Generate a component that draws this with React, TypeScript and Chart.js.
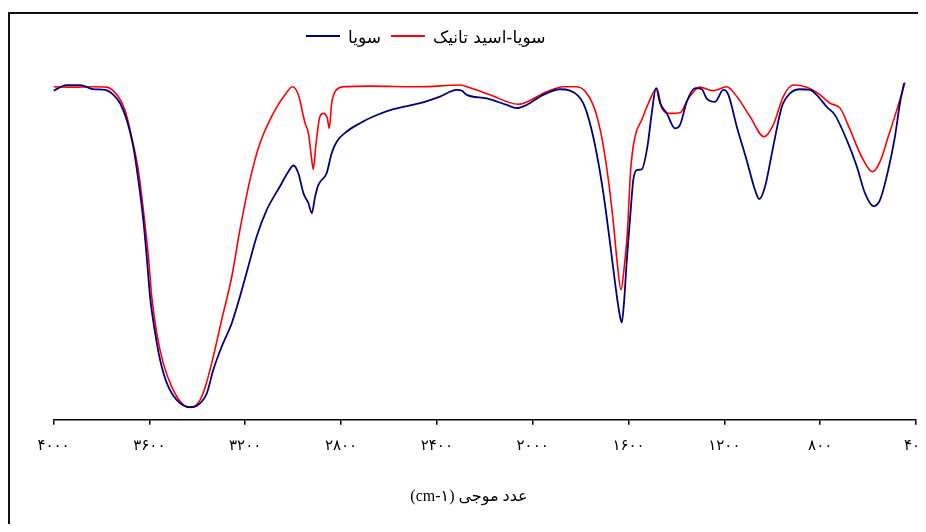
import React, { useEffect, useRef } from 'react';
import { Chart, registerables } from 'chart.js';

Chart.register(...registerables);

// FTIR spectra: wavenumber (cm-1) and transmittance (%)
const sojaWavenumber = [
  4000, 3945, 3889, 3834, 3785, 3750, 3722, 3694, 3667, 3646, 3625, 3611, 3597, 3576, 3555, 3527,
  3486, 3430, 3396, 3360, 3333, 3298, 3256, 3222, 3187, 3152, 3110, 3055, 3020, 2999, 2978, 2957,
  2936, 2922, 2908, 2895, 2860, 2839, 2818, 2776, 2721, 2665, 2582, 2470, 2387, 2317, 2296, 2275,
  2192, 2108, 2067, 2025, 1956, 1886, 1844, 1810, 1789, 1761, 1733, 1705, 1677, 1656, 1638, 1628,
  1619, 1607, 1594, 1580, 1566, 1545, 1521, 1503, 1485, 1468, 1440, 1406, 1385, 1357, 1322, 1294,
  1274, 1239, 1204, 1183, 1148, 1107, 1072, 1054, 1030, 996, 960, 926, 884, 842, 808, 773,
  738, 689, 647, 613, 578, 550, 516, 488, 467, 450,
];
const sojaTransmittance = [
  94.1, 95.7, 95.7, 94.5, 94.3, 92.9, 90.5, 85.7, 78.1, 68.6, 57.1, 46.7, 35.2, 24.9, 17.1, 10.5,
  5.7, 3.6, 4.3, 7.6, 14.3, 20.9, 27.6, 35.2, 43.8, 52.4, 60.0, 66.7, 70.9, 72.7, 70.5, 64.8,
  61.9, 59.1, 63.8, 67.1, 70.5, 76.2, 79.5, 82.4, 84.8, 86.7, 88.8, 90.5, 92.4, 94.3, 94.1, 92.9,
  91.9, 90.0, 89.1, 90.0, 92.9, 94.5, 94.1, 92.6, 90.5, 84.8, 76.2, 64.8, 50.5, 39.1, 30.5, 27.8,
  33.3, 45.7, 57.1, 68.6, 71.4, 71.6, 78.1, 87.6, 94.8, 90.5, 87.6, 83.3, 84.3, 90.9, 94.8, 94.5,
  91.9, 90.9, 94.3, 92.9, 83.8, 74.3, 65.7, 63.1, 66.7, 78.1, 89.5, 93.3, 94.5, 94.3, 92.4, 89.5,
  87.1, 80.0, 72.4, 64.8, 61.1, 62.9, 71.4, 80.9, 90.5, 96.2,
];

const tanninWavenumber = [
  4000, 3917, 3834, 3778, 3730, 3702, 3674, 3646, 3625, 3604, 3590, 3569, 3542, 3507, 3465, 3430,
  3396, 3368, 3333, 3298, 3256, 3222, 3180, 3138, 3083, 3034, 3002, 2978, 2950, 2936, 2922, 2916,
  2904, 2888, 2874, 2857, 2849, 2839, 2825, 2790, 2679, 2470, 2303, 2262, 2178, 2060, 1941, 1872,
  1816, 1774, 1740, 1712, 1684, 1663, 1647, 1631, 1619, 1605, 1591, 1573, 1545, 1517, 1482, 1461,
  1427, 1385, 1350, 1302, 1246, 1190, 1148, 1093, 1034, 996, 954, 912, 856, 808, 759, 717,
  675, 627, 581, 550, 516, 480, 446,
];
const tanninTransmittance = [
  95.2, 95.1, 95.2, 95.1, 92.4, 88.6, 80.9, 71.4, 60.0, 46.7, 35.2, 24.8, 16.2, 9.5, 4.8, 3.5,
  4.8, 9.1, 18.1, 28.6, 40.9, 54.3, 68.6, 79.1, 87.6, 92.9, 95.2, 92.9, 84.8, 81.9, 74.3, 71.6,
  79.1, 86.7, 87.6, 86.2, 83.3, 90.5, 93.8, 95.2, 95.4, 95.2, 95.7, 94.9, 92.9, 90.2, 93.8, 95.2,
  95.2, 93.3, 88.6, 80.9, 68.6, 56.2, 44.8, 37.1, 42.9, 53.3, 71.4, 80.9, 85.7, 90.5, 94.8, 89.1,
  87.6, 87.8, 91.9, 95.1, 94.1, 95.2, 92.4, 86.7, 80.9, 84.3, 92.4, 95.7, 95.1, 93.3, 90.5, 89.1,
  82.9, 75.2, 70.9, 73.8, 80.9, 88.6, 96.4,
];

const seriesLabels = ['سویا', 'سویا-اسید تانیک'];
const seriesColors = ['#000080', '#ff0000'];
const xTickValues = [4000, 3600, 3200, 2800, 2400, 2000, 1600, 1200, 800, 400];
const xAxisTitle = '(cm-۱) عدد موجی';

const persianDigits = '۰۱۲۳۴۵۶۷۸۹';
const toPersian = (n: number) => String(n).replace(/\d/g, (d) => persianDigits[Number(d)]);

const toPoints = (xs: number[], ys: number[]) => xs.map((x, i) => ({ x, y: ys[i] }));

// outer frame (left and top edges), the line legend and the axis caption
const decorations = {
  id: 'decorations',
  beforeDraw(chart: any) {
    const { ctx, width, height } = chart;
    ctx.save();
    ctx.fillStyle = '#ffffff';
    ctx.fillRect(0, 0, width, height);
    ctx.fillStyle = '#111111';
    ctx.fillRect(0, 4, width, 2);
    ctx.fillRect(0, 4, 2, height - 4);
    ctx.restore();
  },
  afterDraw(chart: any) {
    const { ctx } = chart;
    ctx.save();
    ctx.font = '17px "DejaVu Sans"';
    ctx.textBaseline = 'middle';
    ctx.textAlign = 'left';
    let x = 298;
    const lineY = 28;
    chart.data.datasets.forEach((ds: any) => {
      ctx.strokeStyle = ds.borderColor;
      ctx.lineWidth = 2;
      ctx.beginPath();
      ctx.moveTo(x, lineY);
      ctx.lineTo(x + 34, lineY);
      ctx.stroke();
      x += 34 + 8;
      ctx.fillStyle = '#000000';
      ctx.fillText(ds.label, x, lineY + 3);
      x += ctx.measureText(ds.label).width + 10;
    });

    ctx.font = '16px "Liberation Serif", "DejaVu Sans"';
    ctx.textAlign = 'center';
    ctx.fillText(xAxisTitle, 461, 489);
    ctx.restore();
  },
};

export default function App() {
  const canvasRef = useRef<HTMLCanvasElement | null>(null);

  useEffect(() => {
    if (!canvasRef.current) return;
    const chart = new Chart(canvasRef.current, {
      type: 'line',
      data: {
        datasets: [
          {
            label: seriesLabels[0],
            data: toPoints(sojaWavenumber, sojaTransmittance),
            borderColor: seriesColors[0],
            borderWidth: 1.8,
            pointRadius: 0,
            cubicInterpolationMode: 'monotone',
            fill: false,
          },
          {
            label: seriesLabels[1],
            data: toPoints(tanninWavenumber, tanninTransmittance),
            borderColor: seriesColors[1],
            borderWidth: 1.6,
            pointRadius: 0,
            cubicInterpolationMode: 'monotone',
            fill: false,
          },
        ],
      },
      options: {
        animation: false,
        responsive: false,
        events: [],
        layout: { padding: { left: 45.5, right: 10, top: 62, bottom: 65.2 } },
        plugins: {
          legend: { display: false },
          title: { display: false },
          tooltip: { enabled: false },
        },
        scales: {
          x: {
            type: 'linear',
            reverse: true,
            min: 400,
            max: 4000,
            afterBuildTicks: (scale: any) => {
              scale.ticks = xTickValues.map((value) => ({ value }));
            },
            afterFit: (scale: any) => {
              scale.paddingLeft = 0;
              scale.paddingRight = 0;
            },
            grid: {
              display: true,
              drawOnChartArea: false,
              drawTicks: true,
              tickLength: 5,
              color: '#000000',
              lineWidth: 1.5,
            },
            border: { display: true, color: '#000000', width: 1.5 },
            ticks: {
              autoSkip: false,
              maxRotation: 0,
              padding: 12,
              color: '#000000',
              font: { family: '"DejaVu Sans"', size: 15 },
              callback: (v: any) => toPersian(Number(v)),
            },
            title: { display: false },
          },
          y: {
            display: false,
            min: 0,
            max: 100,
          },
        },
      },
      plugins: [decorations],
    });
    return () => chart.destroy();
  }, []);

  return (
    <div style={{ width: 918, height: 524, marginBottom: -8 }}>
      <canvas ref={canvasRef} width={918} height={524} style={{ display: 'block' }} />
    </div>
  );
}
